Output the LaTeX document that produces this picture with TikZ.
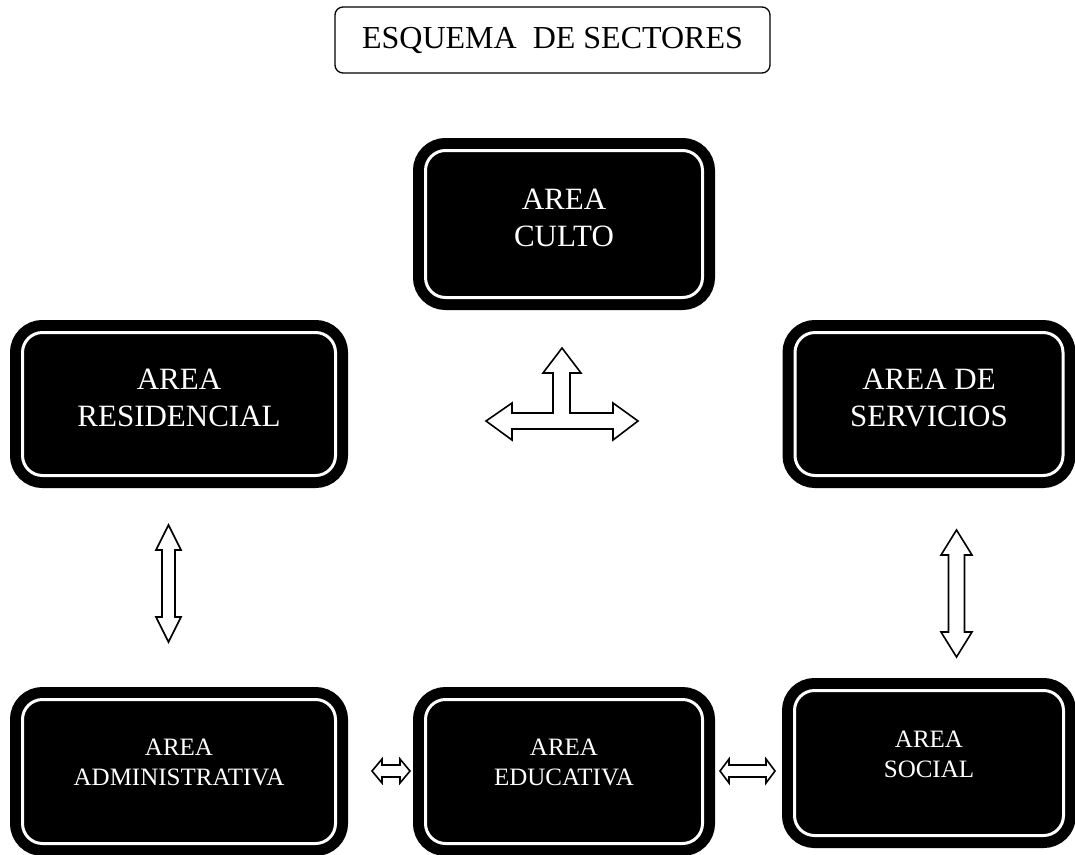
\documentclass[tikz,border=0pt]{standalone}
\usepackage{fontspec}
\setmainfont{Liberation Serif}
\usetikzlibrary{calc}

\tikzset{
  area/.style={rectangle, rounded corners=20pt, fill=black, draw=white,
    line width=3pt, preaction={draw=black, line width=25pt}, text=white,
    align=center, inner sep=0pt},
  toprow/.style={area, font=\fontsize{31}{37}\selectfont, text depth=12pt},
  lowrow/.style={area, font=\fontsize{25}{30}\selectfont, text depth=18pt},
  blockarrow/.style n args={3}{draw, line width=1.6pt, fill=white, line join=miter,
    to path={
      -- ($(\tikztostart)!#3!(\tikztotarget)!#2!90:(\tikztotarget)$)
      -- ($(\tikztostart)!#3!(\tikztotarget)!#1!90:(\tikztotarget)$)
      -- ($(\tikztotarget)!#3!(\tikztostart)!#1!-90:(\tikztostart)$)
      -- ($(\tikztotarget)!#3!(\tikztostart)!#2!-90:(\tikztostart)$)
      -- (\tikztotarget)
      -- ($(\tikztotarget)!#3!(\tikztostart)!#2!90:(\tikztostart)$)
      -- ($(\tikztotarget)!#3!(\tikztostart)!#1!90:(\tikztostart)$)
      -- ($(\tikztostart)!#3!(\tikztotarget)!#1!-90:(\tikztotarget)$)
      -- ($(\tikztostart)!#3!(\tikztotarget)!#2!-90:(\tikztotarget)$)
      -- cycle}}
}

\begin{document}
\begin{tikzpicture}[x=1pt, y=-1pt]
\useasboundingbox (0,0) rectangle (1075,854);

% titulo
\node[draw, line width=1.3pt, rounded corners=8pt, minimum width=435pt,
  minimum height=66pt, font=\fontsize{32}{38}\selectfont] (titulo)
  at (552.5,40) {ESQUEMA\ \ DE SECTORES};

% sectores
\node[toprow, minimum width=277pt, minimum height=147pt] (culto) at (564,224) {AREA\\CULTO};
\node[toprow, minimum width=313pt, minimum height=143pt] (resid) at (179,404) {AREA\\RESIDENCIAL};
\node[toprow, minimum width=268pt, minimum height=143pt] (serv) at (929,404) {AREA DE\\SERVICIOS};
\node[lowrow, minimum width=313pt, minimum height=144pt] (admin) at (179,771.5) {AREA\\ADMINISTRATIVA};
\node[lowrow, minimum width=277pt, minimum height=144pt] (educ) at (564,771.5) {AREA\\EDUCATIVA};
\node[lowrow, minimum width=269pt, minimum height=145pt] (social) at (929,763) {AREA\\SOCIAL};

% extremos de las flechas
\coordinate (resid-s) at (168.5,525);
\coordinate (admin-n) at (168.5,642);
\coordinate (serv-s) at (956.5,530);
\coordinate (social-n) at (956.5,657);
\coordinate (admin-e) at (372,771);
\coordinate (educ-w) at (410,771);
\coordinate (educ-e) at (720,771);
\coordinate (social-w) at (775,771);

\draw[blockarrow={6pt}{12pt}{10pt}] (admin-e) to (educ-w);
\draw[blockarrow={6.5pt}{12.5pt}{25pt}] (resid-s) to (admin-n);
\draw[blockarrow={8pt}{15.5pt}{25pt}] (serv-s) to (social-n);
\draw[blockarrow={6pt}{12pt}{9pt}] (educ-e) to (social-w);

% flecha en T
\draw[line width=1.6pt, fill=white, line join=miter]
  (562,348) -- (581,373) -- (570,373) -- (570,413) -- (613,413) -- (613,403)
  -- (638,421) -- (613,440) -- (613,429) -- (512,429) -- (512,440) -- (486,421)
  -- (512,403) -- (512,413) -- (553,413) -- (553,373) -- (543,373) -- cycle;
\end{tikzpicture}
\end{document}
